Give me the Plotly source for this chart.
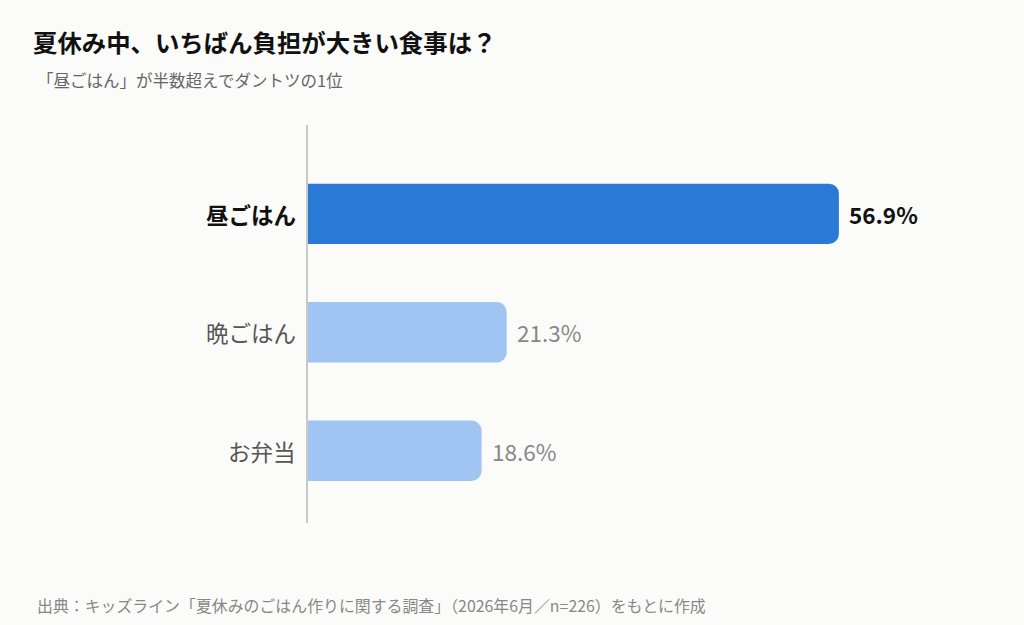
import plotly.graph_objects as go

# データ
meals = ['昼ごはん', '晩ごはん', 'お弁当']
shares = [56.9, 21.3, 18.6]

title_text = '夏休み中、いちばん負担が大きい食事は？'
subtitle_text = '「昼ごはん」が半数超えでダントツの1位'
source_text = '出典：キッズライン「夏休みのごはん作りに関する調査」（2026年6月／n=226）をもとに作成'

FONT = 'Noto Sans CJK JP'
BG = '#FBFBF9'
DARK = '#2979D6'
LIGHT = '#A0C5F2'
GRAY = '#888888'

bar_colors = [DARK if i == 0 else LIGHT for i in range(len(meals))]

fig = go.Figure(go.Bar(
    x=shares,
    y=meals,
    orientation='h',
    width=0.51,
    marker=dict(color=bar_colors, line=dict(width=0), cornerradius=10),
    hoverinfo='skip',
))

# 値ラベルとカテゴリラベル
for i, (m, v) in enumerate(zip(meals, shares)):
    top = i == 0
    fig.add_annotation(
        x=v, y=m, xref='x', yref='y',
        text=f'<b>{v:.1f}%</b>' if top else f'{v:.1f}%',
        showarrow=False, xanchor='left', xshift=8,
        font=dict(family=FONT, size=22.5, color='#111111' if top else GRAY),
    )
    fig.add_annotation(
        x=0, y=m, xref='paper', yref='y',
        text=f'<b>{m}</b>' if top else m,
        showarrow=False, xanchor='right', xshift=-10,
        font=dict(family=FONT, size=22.5, color='#111111' if top else '#555555'),
    )

fig.add_annotation(x=31, y=42, xref='paper', yref='paper', text=f'<b>{title_text}</b>',
                   showarrow=False, xanchor='left', yanchor='middle',
                   font=dict(family=FONT, size=24.4, color='#111111'))
fig.add_annotation(x=35, y=80, xref='paper', yref='paper', text=subtitle_text,
                   showarrow=False, xanchor='left', yanchor='middle',
                   font=dict(family=FONT, size=16.5, color='#666666'))
fig.add_annotation(x=35, y=605, xref='paper', yref='paper', text=source_text,
                   showarrow=False, xanchor='left', yanchor='middle',
                   font=dict(family=FONT, size=15.9, color=GRAY))

# 紙座標をピクセルに変換
W, H = 1024, 625
L, R, T, B = 308, 61, 125, 102
pw, ph = W - L - R, H - T - B
for a in fig.layout.annotations:
    if a.xref == 'paper' and a.yref == 'paper':
        a.x = (a.x - L) / pw
        a.y = 1 - (a.y - T) / ph

fig.update_layout(
    width=W, height=H,
    margin=dict(l=L, r=R, t=T, b=B),
    paper_bgcolor=BG, plot_bgcolor=BG,
    showlegend=False,
    font=dict(family=FONT),
    xaxis=dict(range=[0, pw / 9.33], visible=False, fixedrange=True),
    yaxis=dict(range=[2.61, -0.75], showticklabels=False, showgrid=False,
               zeroline=False, showline=True, linecolor='#CACAC4', linewidth=1.5,
               ticks='', fixedrange=True),
)

fig.write_html('out.html', config={'displayModeBar': False},
               post_script="document.body.style.margin='0';document.body.style.background='#FBFBF9';")
